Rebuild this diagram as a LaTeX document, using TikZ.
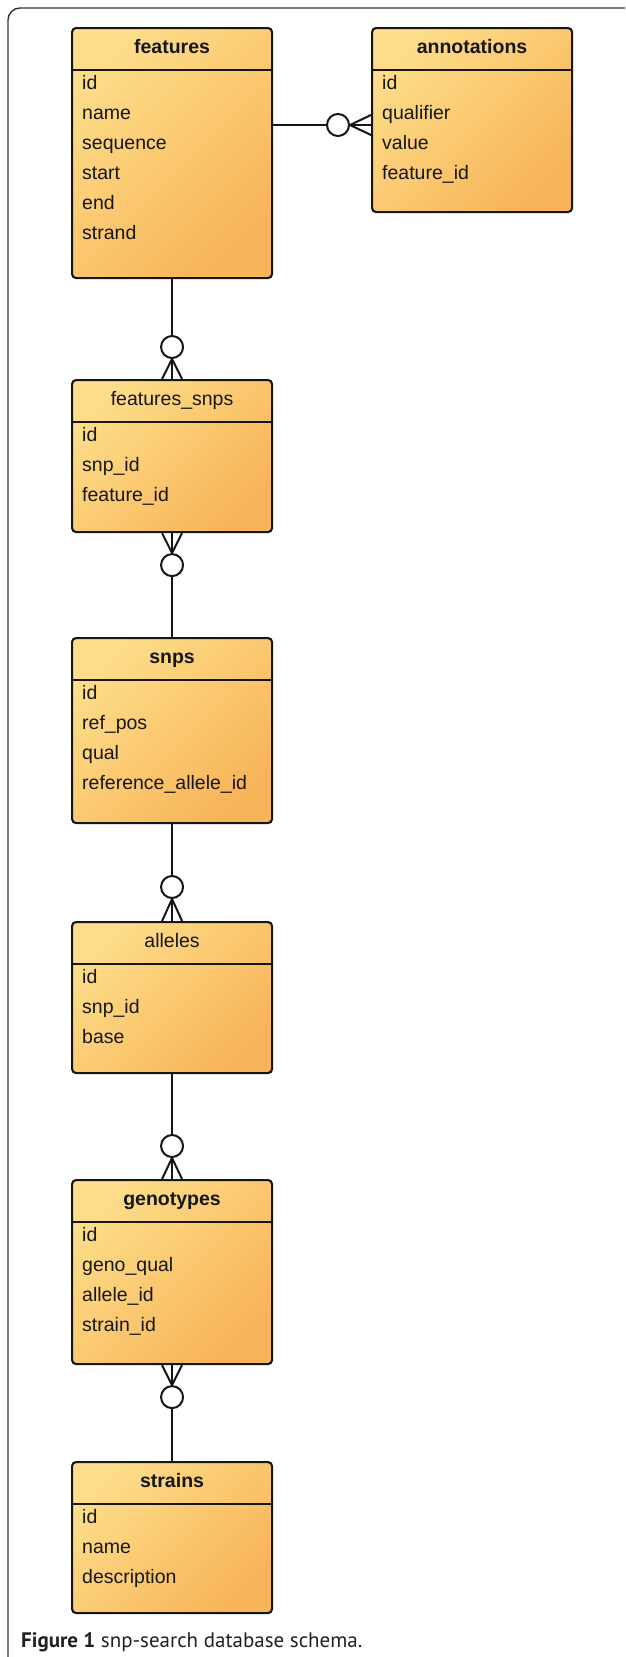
\documentclass[tikz,border=0pt]{standalone}
\usepackage{fontspec}
\setmainfont{Liberation Sans}
\newfontfamily\capfont{PT Sans}
\usetikzlibrary{calc}
\definecolor{boxlight}{RGB}{253,221,137}
\definecolor{boxdark}{RGB}{248,180,88}
\definecolor{ink}{RGB}{22,22,22}
\definecolor{capink}{RGB}{35,31,32}
\tikzset{
  tbox/.style={draw=ink, line width=2.1pt, rounded corners=4pt, top color=boxlight, bottom color=boxdark, shading angle=45, minimum width=200pt, inner sep=0pt},
  hline/.style={draw=ink, line width=2.1pt},
  titlebold/.style={font=\bfseries\fontsize{19.5}{23}\selectfont, text=ink, inner sep=0pt},
  titleplain/.style={font=\fontsize{19.5}{23}\selectfont, text=ink, inner sep=0pt},
  rowtext/.style={font=\fontsize{19.5}{23}\selectfont, text=ink, inner sep=0pt},
  conn/.style={draw=ink, line width=2pt},
  crowo/.style={circle, draw=ink, fill=white, line width=2pt, minimum size=22pt, inner sep=0pt},
  frameline/.style={draw=black!80, line width=1.4pt, rounded corners=12pt},
  captext/.style={font=\capfont\fontsize{21}{25}\selectfont, text=capink, inner sep=0pt}
}
\newcommand\ertable[7]{%
  \node[tbox, minimum height=#4pt, anchor=north west] (#1) at (#2,#3) {};
  \draw[hline] ($(#1.north west)+(0,43)$) -- ($(#1.north east)+(0,43)$);
  \node[#5, anchor=base] (#1-title) at ($(#1.north)+(0,26)$) {#6};
  \foreach \rowtxt [count=\i] in {#7} {\node[rowtext, anchor=base west] (#1-r\i) at ($(#1.north west)+(11,32+30*\i)$) {\rowtxt};}
}
\begin{document}
\begin{tikzpicture}[x=1pt, y=-1pt]
\useasboundingbox (0,0) rectangle (625,1657);
\draw[frameline] (625,8) -- (8,8) -- (8,1657);

\ertable{features}{71}{27}{250}{titlebold}{features}{id,name,sequence,start,end,strand}
\ertable{annotations}{371}{27}{184}{titlebold}{annotations}{id,qualifier,value,feature\_id}
\ertable{fsnps}{71}{379}{152}{titleplain}{features\_snps}{id,snp\_id,feature\_id}
\ertable{snps}{71}{637}{185}{titlebold}{snps}{id,ref\_pos,qual,reference\_allele\_id}
\ertable{alleles}{71}{921}{151}{titleplain}{alleles}{id,snp\_id,base}
\ertable{genotypes}{71}{1179}{184}{titlebold}{genotypes}{id,geno\_qual,allele\_id,strain\_id}
\ertable{strains}{71}{1461}{151}{titlebold}{strains}{id,name,description}

% features -- annotations
\coordinate (fa-a) at ($(features.north east)+(0,98)$);
\coordinate (fa-b) at ($(annotations.north west)+(0,98)$);
\draw[conn] (fa-a) -- (fa-b);
\node[crowo] (o0) at ($(fa-b)+(-33,0)$) {};
\draw[conn] (o0.east) -- ($(fa-b)+(0,-10)$) (o0.east) -- ($(fa-b)+(0,10)$);

% features -- features_snps
\draw[conn] (features.south) -- (fsnps.north);
\node[crowo] (o1) at ($(fsnps.north)+(0,-32)$) {};
\draw[conn] (o1.south) -- ($(fsnps.north)+(-10,0)$) (o1.south) -- ($(fsnps.north)+(10,0)$);

% features_snps -- snps
\draw[conn] (fsnps.south) -- (snps.north);
\node[crowo] (o2) at ($(fsnps.south)+(0,32)$) {};
\draw[conn] (o2.north) -- ($(fsnps.south)+(-10,0)$) (o2.north) -- ($(fsnps.south)+(10,0)$);

% snps -- alleles
\draw[conn] (snps.south) -- (alleles.north);
\node[crowo] (o3) at ($(alleles.north)+(0,-34)$) {};
\draw[conn] (o3.south) -- ($(alleles.north)+(-10,0)$) (o3.south) -- ($(alleles.north)+(10,0)$);

% alleles -- genotypes
\draw[conn] (alleles.south) -- (genotypes.north);
\node[crowo] (o4) at ($(genotypes.north)+(0,-33)$) {};
\draw[conn] (o4.south) -- ($(genotypes.north)+(-10,0)$) (o4.south) -- ($(genotypes.north)+(10,0)$);

% genotypes -- strains
\draw[conn] (genotypes.south) -- (strains.north);
\node[crowo] (o5) at ($(genotypes.south)+(0,32)$) {};
\draw[conn] (o5.north) -- ($(genotypes.south)+(-10,0)$) (o5.north) -- ($(genotypes.south)+(10,0)$);

\node[captext, anchor=base west] (caption) at (21,1647) {\textbf{Figure 1} snp-search database schema.};
\end{tikzpicture}
\end{document}
